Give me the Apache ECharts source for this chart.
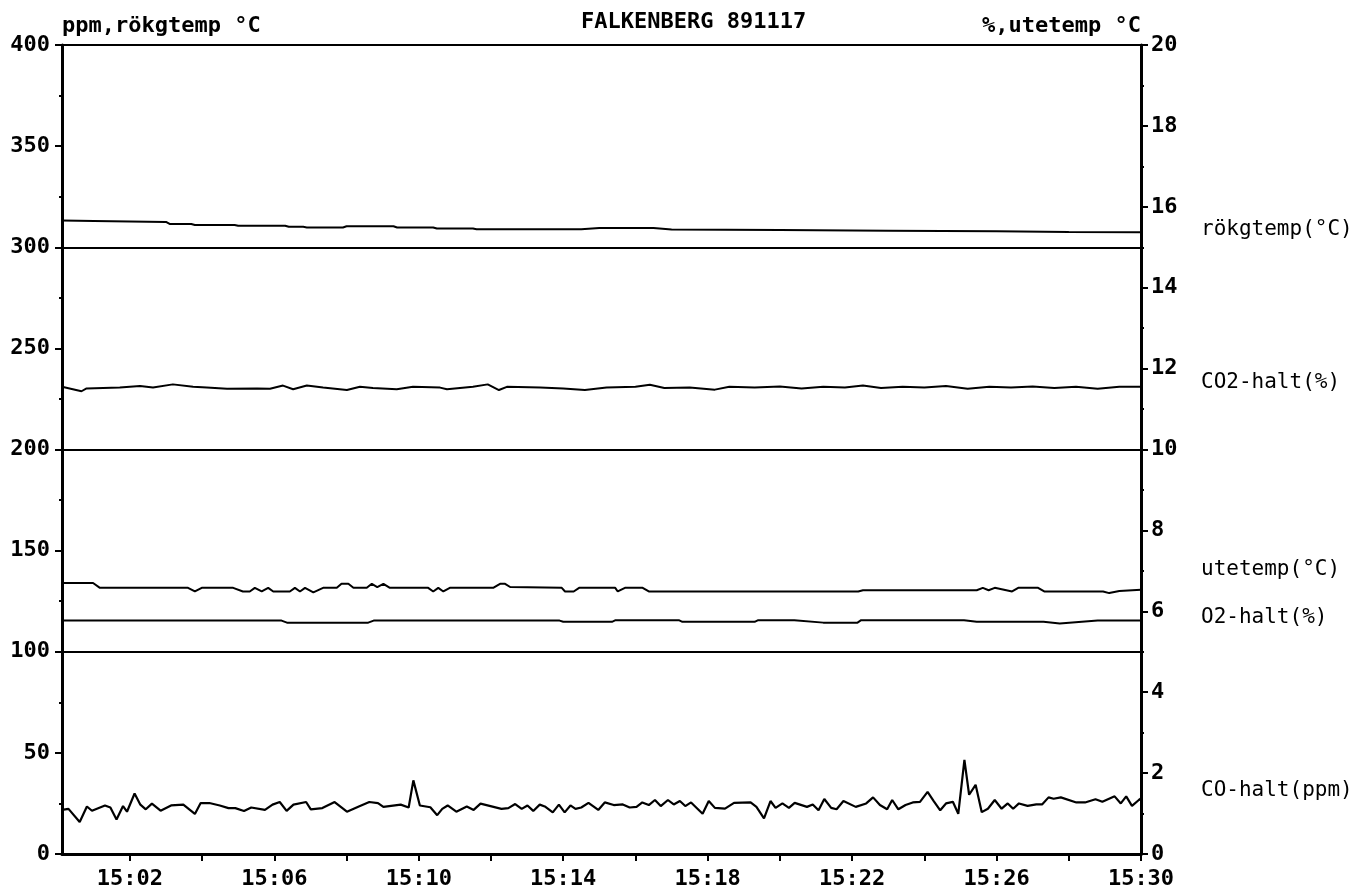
<!DOCTYPE html>
<html><head><meta charset="utf-8">
<script src="https://cdn.jsdelivr.net/npm/echarts@6/dist/echarts.min.js"></script>
<style>html,body{margin:0;padding:0;background:#fff}#c{width:1370px;height:892px}</style>
</head><body><div id="c"></div>
<script>
// ---- texts ----
const chartTitle = 'FALKENBERG 891117';
const leftAxisName = 'ppm,rökgtemp °C';
const rightAxisName = '%,utetemp °C';

// ---- x axis: minutes after 15:00 ----
const xMin = 0.12, xMax = 30;
const xTickMinutes = [2,4,6,8,10,12,14,16,18,20,22,24,26,28,30];
const xLabelMinutes = [2,6,10,14,18,22,26,30];

// ---- series (time in minutes after 15:00, value) ----
// rökgtemp (°C, left axis)
const rokgtemp = [[0.12,313.2],[1.0,313.0],[1.05,312.5],[3.0,312.5],[3.1,311.5],[3.7,311.5],[3.8,311.0],[4.9,311.0],[5.0,310.6],[6.3,310.6],[6.4,310.1],[6.8,310.1],[6.9,309.8],[7.9,309.8],[8.0,310.4],[9.3,310.4],[9.4,309.8],[10.4,309.8],[10.5,309.3],[11.5,309.3],[11.6,308.9],[14.5,308.9],[15.0,309.5],[16.5,309.5],[17.0,308.8],[20.0,308.5],[23.0,308.2],[26.0,307.9],[28.0,307.6],[30,307.4]];

// CO2-halt (%, right axis)
const co2Halt = [[0.12,11.55],[0.66,11.44],[0.80,11.51],[1.72,11.53],[2.28,11.57],[2.64,11.53],[3.19,11.61],[3.75,11.55],[4.13,11.53],[4.69,11.50],[5.52,11.51],[5.88,11.50],[6.24,11.58],[6.52,11.49],[6.90,11.58],[7.35,11.53],[8.01,11.47],[8.37,11.55],[8.73,11.52],[9.39,11.49],[9.84,11.55],[10.59,11.53],[10.78,11.49],[11.50,11.55],[11.91,11.61],[12.22,11.47],[12.44,11.55],[13.36,11.53],[14.0,11.51],[14.6,11.47],[15.2,11.53],[16.0,11.55],[16.4,11.60],[16.8,11.52],[17.5,11.53],[18.2,11.48],[18.6,11.55],[19.3,11.53],[20.0,11.56],[20.6,11.51],[21.2,11.55],[21.8,11.53],[22.3,11.58],[22.8,11.52],[23.4,11.55],[24.0,11.53],[24.6,11.57],[25.2,11.50],[25.8,11.55],[26.4,11.53],[27.0,11.56],[27.6,11.52],[28.2,11.55],[28.8,11.50],[29.4,11.55],[30,11.55]];

// utetemp (°C, right axis)
const utetemp = [[0.12,6.70],[0.98,6.70],[1.17,6.58],[3.61,6.58],[3.80,6.49],[3.99,6.58],[4.86,6.58],[5.13,6.49],[5.32,6.49],[5.46,6.58],[5.65,6.49],[5.83,6.58],[5.97,6.49],[6.43,6.49],[6.57,6.58],[6.71,6.49],[6.85,6.58],[7.08,6.47],[7.35,6.58],[7.73,6.58],[7.86,6.68],[8.05,6.68],[8.19,6.58],[8.56,6.58],[8.70,6.68],[8.85,6.60],[9.02,6.68],[9.20,6.58],[10.26,6.58],[10.40,6.49],[10.54,6.58],[10.68,6.49],[10.86,6.58],[12.06,6.58],[12.25,6.68],[12.39,6.68],[12.53,6.60],[13.96,6.58],[14.05,6.49],[14.29,6.49],[14.44,6.58],[15.44,6.58],[15.51,6.49],[15.71,6.58],[16.20,6.58],[16.37,6.49],[22.17,6.49],[22.30,6.52],[25.45,6.52],[25.62,6.58],[25.78,6.52],[25.95,6.58],[26.43,6.49],[26.60,6.58],[27.15,6.58],[27.32,6.49],[28.95,6.49],[29.12,6.45],[29.40,6.50],[30,6.53]];

// O2-halt (%, right axis)
const o2Halt = [[0.12,5.77],[6.2,5.77],[6.35,5.72],[8.6,5.72],[8.75,5.77],[13.9,5.77],[14.0,5.74],[15.35,5.74],[15.45,5.78],[17.2,5.78],[17.3,5.74],[19.3,5.74],[19.4,5.78],[20.4,5.78],[21.2,5.72],[22.15,5.72],[22.25,5.78],[25.1,5.78],[25.45,5.74],[27.3,5.74],[27.75,5.70],[28.8,5.77],[30,5.77]];

// CO-halt (ppm, left axis)
const coHalt = [[0.12,21.8],[0.30,22.3],[0.61,15.8],[0.81,23.5],[0.95,21.4],[1.31,24.0],[1.46,23.0],[1.63,17.1],[1.81,23.7],[1.92,20.9],[2.13,29.9],[2.29,24.4],[2.44,22.1],[2.61,24.9],[2.85,21.4],[3.14,24.0],[3.48,24.4],[3.80,19.8],[3.96,25.2],[4.20,25.2],[4.49,24.0],[4.73,22.7],[4.92,22.7],[5.16,21.3],[5.36,23.0],[5.74,21.8],[5.95,24.4],[6.15,25.7],[6.34,21.3],[6.53,24.4],[6.88,25.7],[7.01,22.1],[7.33,22.7],[7.67,25.7],[8.01,20.9],[8.34,23.5],[8.63,25.7],[8.87,25.2],[9.02,23.3],[9.50,24.4],[9.72,23.0],[9.85,36.4],[10.03,24.0],[10.32,23.1],[10.51,19.2],[10.65,22.3],[10.80,24.0],[11.04,20.9],[11.33,23.5],[11.52,21.8],[11.71,24.9],[12.29,22.3],[12.48,22.7],[12.67,24.7],[12.85,22.3],[13.01,24.0],[13.17,21.3],[13.35,24.4],[13.49,23.5],[13.71,20.6],[13.88,24.4],[14.04,20.6],[14.20,24.0],[14.34,22.3],[14.50,23.0],[14.70,25.3],[14.97,21.8],[15.15,25.5],[15.40,24.2],[15.65,24.5],[15.84,23.0],[16.03,23.3],[16.19,25.5],[16.37,24.2],[16.54,26.7],[16.70,23.7],[16.90,26.7],[17.06,24.5],[17.23,26.2],[17.38,23.7],[17.54,25.5],[17.86,19.9],[18.03,26.2],[18.20,22.8],[18.48,22.4],[18.73,25.3],[19.19,25.5],[19.35,23.3],[19.56,17.6],[19.74,26.2],[19.88,22.8],[20.07,25.0],[20.25,22.8],[20.41,25.3],[20.75,23.3],[20.91,24.5],[21.07,21.6],[21.23,27.2],[21.42,22.8],[21.57,22.1],[21.76,26.2],[22.10,23.3],[22.39,25.0],[22.58,28.0],[22.77,24.2],[22.97,22.1],[23.11,26.7],[23.28,22.1],[23.48,24.2],[23.68,25.5],[23.88,25.8],[24.09,30.7],[24.26,26.2],[24.44,21.6],[24.60,25.0],[24.79,25.8],[24.94,19.9],[25.11,46.5],[25.24,29.3],[25.42,34.2],[25.59,20.7],[25.76,22.4],[25.95,26.7],[26.14,22.4],[26.31,25.0],[26.46,22.4],[26.62,25.0],[26.86,23.8],[27.10,24.5],[27.26,24.5],[27.44,28.0],[27.58,27.3],[27.78,28.0],[28.21,25.5],[28.45,25.5],[28.74,27.1],[28.93,25.8],[29.27,28.5],[29.44,25.0],[29.59,28.5],[29.75,23.8],[29.94,26.7],[30.00,27.5]];

// ---- axes ranges ----
const leftMin = 0, leftMax = 400, leftInterval = 50, gridInterval = 100;
const rightMin = 0, rightMax = 20, rightInterval = 2;

const FONT = 'DejaVu Sans Mono';
const boldText = {color:'#000', fontFamily:FONT, fontWeight:'bold', fontSize:22};
const lineStyle = {color:'#000', width:2};

function mkSeries(name, data, yIdx, dy, width) {
  return {
    name, type:'line', data, yAxisIndex:yIdx, showSymbol:false, symbol:'none',
    lineStyle:{color:'#000', width:width||2}, itemStyle:{color:'#000'},
    endLabel:{show:true, formatter:name, color:'#000', fontFamily:FONT, fontSize:21, offset:[52, dy]},
    animation:false
  };
}

const chart = echarts.init(document.getElementById('c'), null, {renderer:'canvas'});
chart.setOption({
  animation:false,
  backgroundColor:'#fff',
  title:{text:chartTitle, left:581, top:11, padding:0, textStyle:boldText},
  grid:{left:62, right:229, top:45, bottom:38, containLabel:false},
  xAxis:{
    type:'value', min:xMin, max:xMax,
    axisLine:{lineStyle:{color:'#000', width:3}},
    axisTick:{show:true, length:7, lineStyle:{color:'#000', width:2}, customValues:xTickMinutes},
    axisLabel:{...boldText, margin:14, customValues:xLabelMinutes,
      formatter:v => '15:' + String(Math.round(v)).padStart(2,'0')},
    splitLine:{show:false}
  },
  yAxis:[
    {
      type:'value', position:'left', min:leftMin, max:leftMax, interval:leftInterval,
      name:leftAxisName, nameLocation:'end', nameGap:8,
      nameTextStyle:{...boldText, align:'left', verticalAlign:'bottom'},
      axisLine:{show:true, lineStyle:{color:'#000', width:3}},
      axisTick:{show:true, length:7, lineStyle:{color:'#000', width:2}},
      minorTick:{show:true, splitNumber:2, length:3, lineStyle:{color:'#000', width:2}},
      axisLabel:{...boldText, margin:12},
      splitLine:{show:false}
    },
    {
      type:'value', position:'right', min:rightMin, max:rightMax, interval:rightInterval,
      name:rightAxisName, nameLocation:'end', nameGap:8,
      nameTextStyle:{...boldText, align:'right', verticalAlign:'bottom'},
      axisLine:{show:true, lineStyle:{color:'#000', width:3}},
      axisTick:{show:true, length:7, lineStyle:{color:'#000', width:2}},
      minorTick:{show:true, splitNumber:2, length:3, lineStyle:{color:'#000', width:2}},
      axisLabel:{...boldText, margin:10},
      splitLine:{show:false}
    },
    {
      type:'value', position:'left', min:leftMin, max:leftMax, interval:gridInterval,
      axisLine:{show:false}, axisTick:{show:false}, axisLabel:{show:false},
      splitLine:{show:true, lineStyle:{color:'#000', width:2}}
    }
  ],
  series:[
    mkSeries('rökgtemp(°C)', rokgtemp, 0, -3),
    mkSeries('CO2-halt(%)', co2Halt, 1, -4),
    mkSeries('utetemp(°C)', utetemp, 1, -20),
    mkSeries('O2-halt(%)', o2Halt, 1, -3),
    mkSeries('CO-halt(ppm)', coHalt, 0, -8, 2.2)
  ]
});
</script></body></html>
